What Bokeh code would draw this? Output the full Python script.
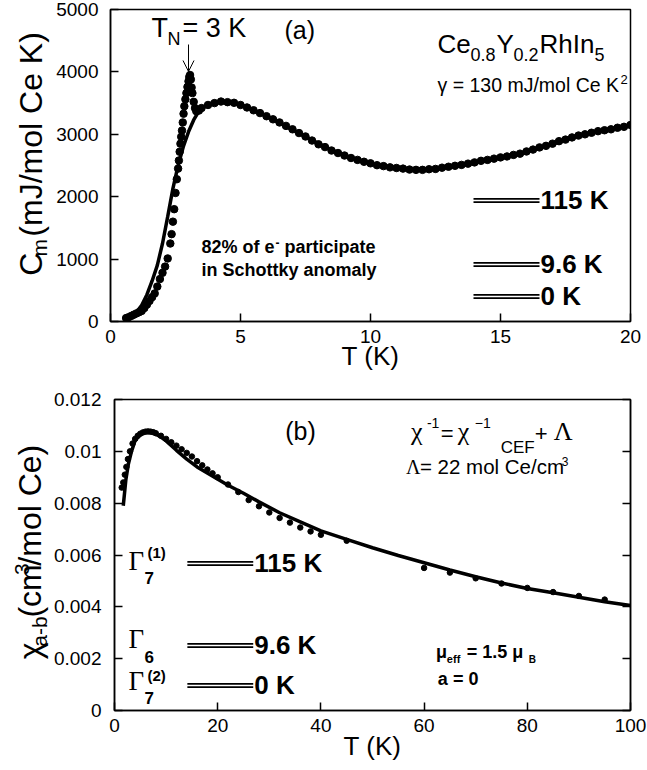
import math
from bokeh.plotting import figure
from bokeh.layouts import column, row
from bokeh.models import Label, Arrow, OpenHead, LinearAxis, FixedTicker, Range1d
from bokeh.embed import file_html
from bokeh.resources import INLINE

# ---------------- data: panel (a) specific heat ----------------
cm_T = [0.6, 0.7, 0.8, 0.9, 1.0, 1.1, 1.2, 1.3, 1.4, 1.5, 1.6, 1.7, 1.8, 1.9, 2.0,
        2.1, 2.2, 2.3, 2.35, 2.4, 2.45, 2.5, 2.55, 2.6, 2.63, 2.66, 2.69, 2.72, 2.75,
        2.78, 2.81, 2.84, 2.88, 2.92, 2.96, 3.0, 3.03, 3.06, 3.09, 3.12, 3.15, 3.2,
        3.25, 3.3, 3.4, 3.5, 3.75, 4.0, 4.25, 4.5, 4.75, 5.0, 5.25, 5.5, 5.75, 6.0,
        6.25, 6.5, 6.75, 7.0, 7.25, 7.5, 7.75, 8.0, 8.25, 8.5, 8.75, 9.0, 9.25, 9.5,
        9.75, 10.0, 10.25, 10.5, 10.75, 11.0, 11.25, 11.5, 11.75, 12.0, 12.25, 12.5,
        12.75, 13.0, 13.25, 13.5, 13.75, 14.0, 14.25, 14.5, 14.75, 15.0, 15.25, 15.5,
        15.75, 16.0, 16.25, 16.5, 16.75, 17.0, 17.25, 17.5, 17.75, 18.0, 18.25, 18.5,
        18.75, 19.0, 19.25, 19.5, 19.75, 20.0]
cm_C = [55, 70, 90, 110, 130, 150, 170, 215, 270, 330, 390, 450, 560, 680, 780,
        880, 1010, 1250, 1400, 1600, 1800, 2060, 2280, 2450, 2580, 2720, 2850, 2960, 3060,
        3190, 3330, 3450, 3560, 3660, 3760, 3850, 3920, 3950, 3880, 3750, 3660, 3520,
        3420, 3370, 3380, 3420, 3470, 3500, 3525, 3515, 3505, 3470, 3430, 3385, 3340, 3290,
        3240, 3190, 3135, 3080, 3020, 2965, 2900, 2840, 2795, 2740, 2700, 2660, 2620, 2590,
        2560, 2535, 2505, 2490, 2470, 2460, 2450, 2435, 2430, 2430, 2440, 2445,
        2465, 2480, 2495, 2510, 2530, 2550, 2575, 2590, 2610, 2630, 2645, 2670,
        2690, 2725, 2755, 2790, 2815, 2850, 2890, 2915, 2950, 2980, 3000, 3025,
        3050, 3065, 3080, 3105, 3120, 3150]
fitC_T = [0.6, 0.8, 1.0, 1.2, 1.4, 1.6, 1.8, 2.0, 2.2, 2.4, 2.6, 2.8, 3.0, 3.2, 3.4,
          3.7, 4.0, 4.3, 4.6, 5.0, 5.5, 6.0, 6.5, 7.0, 7.5, 8.0, 8.5, 9.0, 9.5, 10.0,
          10.5, 11.0, 11.5, 12.0, 12.5, 13.0, 13.5, 14.0, 14.5, 15.0, 15.5, 16.0, 16.5,
          17.0, 17.5, 18.0, 18.5, 19.0, 19.5, 20.0]
fitC_C = [55, 95, 150, 260, 430, 650, 900, 1250, 1680, 2130, 2500, 2800, 3040, 3230, 3370,
          3470, 3515, 3530, 3510, 3470, 3390, 3290, 3180, 3070, 2960, 2850, 2750, 2660, 2590, 2530,
          2490, 2460, 2440, 2430, 2440, 2470, 2500, 2540, 2580, 2630, 2670, 2720, 2780,
          2840, 2910, 2970, 3020, 3070, 3100, 3150]

# ---------------- data: panel (b) susceptibility ----------------
chi_T = [1.4, 1.7, 2.0, 2.3, 2.6, 3.0, 3.5, 4.0, 4.5, 5.0, 5.5, 6.0, 6.5, 7.0, 7.5, 8.0,
         9, 10, 11, 12, 13, 14, 15, 16, 17, 18, 19, 20, 22, 24, 26, 28, 30, 32, 34, 36,
         38, 40, 45, 60, 65, 70, 75, 80, 85, 90, 95]
chi_v = [0.0086, 0.0088, 0.0091, 0.0094, 0.0097, 0.0100, 0.0103, 0.01048, 0.0106, 0.01068,
         0.01073, 0.01076, 0.01077, 0.01076, 0.01074, 0.0107, 0.0106, 0.01048, 0.01035,
         0.01022, 0.01008, 0.00994, 0.0098, 0.00962, 0.00946, 0.0093, 0.00915, 0.009,
         0.00872, 0.00843, 0.00812, 0.00788, 0.00764, 0.00743, 0.00725, 0.00706, 0.00691,
         0.00678, 0.00655, 0.0055, 0.00532, 0.0051, 0.0049, 0.00473, 0.00457, 0.00442, 0.00428]
fitX_T = [1.7, 2.2, 2.7, 3.3, 4, 5, 6, 7, 8, 9, 10, 12, 14, 16, 18.8, 22, 25, 28, 32, 36,
          40, 45, 50, 55, 60, 65, 70, 75, 80, 85, 90, 95, 100]
fitX_v = [0.0079, 0.0089, 0.00952, 0.0100, 0.01042, 0.01065, 0.01073, 0.01074, 0.01066,
          0.01055, 0.0104, 0.01004, 0.0097, 0.0094, 0.00907, 0.00869, 0.00838, 0.00805,
          0.00763, 0.00728, 0.00693, 0.0066, 0.00628, 0.00598, 0.0057, 0.00542, 0.00516,
          0.00492, 0.00471, 0.00454, 0.00437, 0.0042, 0.00405]

# CEF levels
level_labels = ["115 K", "9.6 K", "0 K"]

a_xticks = [0, 5, 10, 15, 20]
a_yticks = [0, 1000, 2000, 3000, 4000, 5000]
b_xticks = [0, 20, 40, 60, 80, 100]
b_yticks = [0, 0.002, 0.004, 0.006, 0.008, 0.01, 0.012]
b_ylabels = ["0", "0.002", "0.004", "0.006", "0.008", "0.01", "0.012"]

SANS = "Liberation Sans"
SERIF = "Liberation Serif"
YLW = 50  # width of the strip that carries the rotated y titles
BASE = 0.37  # baseline correction (fraction of font size)


def style(p, xt, yt):
    p.grid.visible = False
    p.outline_line_color = "black"
    p.outline_line_width = 1.5
    p.background_fill_color = "white"
    p.border_fill_color = "white"
    for ax in p.axis:
        ax.axis_line_width = 1.5
        ax.axis_line_color = "black"
        ax.major_tick_in = 8
        ax.major_tick_out = 0
        ax.major_tick_line_width = 1.5
        ax.minor_tick_line_color = None
        ax.major_label_text_font = SANS
        ax.major_label_text_font_size = "19px"
        ax.major_label_text_color = "black"
        ax.major_label_text_font_style = "normal"
        ax.axis_label_text_font = SANS
        ax.axis_label_text_font_style = "normal"
        ax.axis_label_text_font_size = "26px"
        ax.axis_label_text_color = "black"
    p.xaxis.ticker = FixedTicker(ticks=xt)
    p.yaxis.ticker = FixedTicker(ticks=yt)
    p.xaxis.major_label_standoff = 8


def lab(p, conv, cx, cy, s, size, font=SANS, bold=False, angle=0.0, align="left"):
    # cx, cy give the wanted baseline position in page pixels
    if angle == 0.0:
        cy = cy - BASE * size
    else:
        cx = cx - BASE * size
    x, y = conv(cx, cy)
    p.add_layout(Label(x=x, y=y, text=s, text_font=font, text_font_size=f"{size}px",
                       text_font_style="bold" if bold else "normal", angle=angle,
                       text_align=align, text_baseline="alphabetic", text_color="black"))


def strip(h):
    s = figure(width=YLW, height=h, x_range=Range1d(0, YLW), y_range=Range1d(h, 0),
               output_backend="svg", toolbar_location=None, x_axis_type=None,
               y_axis_type=None, min_border=0)
    s.grid.visible = False
    s.outline_line_color = None
    s.background_fill_color = "white"
    s.border_fill_color = "white"
    return s


def ident(cx, cy):
    return (cx, cy)


R = math.pi / 2

# ================= panel (a) =================
H1 = 375
p1 = figure(width=647 - YLW, height=H1, x_range=Range1d(0, 20), y_range=Range1d(0, 5000),
            output_backend="svg", toolbar_location=None,
            min_border_left=110 - YLW, min_border_right=17, min_border_top=9,
            min_border_bottom=54)
style(p1, a_xticks, a_yticks)
p1.yaxis.major_label_standoff = 12
p1.xaxis.axis_label = "T (K)"
p1.xaxis.axis_label_standoff = -5


def ca(cx, cy):
    return ((cx - 110) / 26.0, (321 - cy) / 0.0624)


p1.line(fitC_T, fitC_C, line_color="black", line_width=3.5)
p1.scatter(cm_T, cm_C, size=7.5, fill_color="black", line_color="black")

a_lev_y = [200, 264, 296]
for yy, txt in zip(a_lev_y, level_labels):
    for d in (-1.7, 1.7):
        x0, y0 = ca(473, yy + d)
        x1, _ = ca(539, yy + d)
        p1.segment(x0=[x0], y0=[y0], x1=[x1], y1=[y0], line_color="black", line_width=1.8)
    lab(p1, ca, 540, yy + 9, txt, 26, bold=True)

lab(p1, ca, 151, 37, "T", 27)
lab(p1, ca, 167, 45, "N", 18)
lab(p1, ca, 182, 37, "= 3 K", 27)
ax0, ay0 = ca(188, 44)
ax1, ay1 = ca(188, 71)
p1.add_layout(Arrow(x_start=ax0, y_start=ay0, x_end=ax1, y_end=ay1, line_width=1,
                    end=OpenHead(size=11, line_width=1)))
lab(p1, ca, 284, 39, "(a)", 25)

lab(p1, ca, 437, 53, "Ce", 26)
lab(p1, ca, 470, 61, "0.8", 18)
lab(p1, ca, 496, 53, "Y", 26)
lab(p1, ca, 513, 61, "0.2", 18)
lab(p1, ca, 539, 53, "RhIn", 26)
lab(p1, ca, 594, 61, "5", 18)
lab(p1, ca, 437, 92, "\u03b3 = 130 mJ/mol Ce K", 19.5)
lab(p1, ca, 620, 84, "2", 13)

lab(p1, ca, 201, 253, "82% of e", 18, bold=True)
lab(p1, ca, 275, 246, "-", 12, bold=True)
lab(p1, ca, 284, 253, "participate", 18, bold=True)
lab(p1, ca, 201, 276, "in Schottky anomaly", 18, bold=True)

s1 = strip(H1)
lab(s1, ident, 42, 320, "C", 32, angle=R)
lab(s1, ident, 47, 297, "m", 21, angle=R)
lab(s1, ident, 42, 273, "(mJ/mol Ce K)", 32, angle=R)

# ================= panel (b) =================
H2 = 770 - H1
p2 = figure(width=647 - YLW, height=H2, x_range=Range1d(0, 100), y_range=Range1d(0, 0.012),
            output_backend="svg", toolbar_location=None,
            min_border_left=113 - YLW, min_border_right=17, min_border_top=24,
            min_border_bottom=60)
p2.add_layout(LinearAxis(), "right")
style(p2, b_xticks, b_yticks)
p2.yaxis[0].major_label_overrides = {v: s for v, s in zip(b_yticks, b_ylabels)}
p2.yaxis[0].major_label_standoff = 13
p2.yaxis[1].major_label_text_font_size = "1px"
p2.yaxis[1].major_label_text_color = None
p2.yaxis[1].major_label_standoff = 0
p2.xaxis.axis_label = "T (K)"
p2.xaxis.axis_label_standoff = -4


def cb(cx, cy):
    return ((cx - 113) / 5.17, (710 - cy) * 0.012 / 311.0)


p2.line(fitX_T, fitX_v, line_color="black", line_width=3.5)
p2.scatter(chi_T, chi_v, size=5.5, fill_color="black", line_color="black")

b_lev_y = [563, 645, 685]
for yy, txt in zip(b_lev_y, level_labels):
    for d in (-1.7, 1.7):
        x0, y0 = cb(186, yy + d)
        x1, _ = cb(252, yy + d)
        p2.segment(x0=[x0], y0=[y0], x1=[x1], y1=[y0], line_color="black", line_width=1.8)
    lab(p2, cb, 253, yy + 9, txt, 26, bold=True)

lab(p2, cb, 127, 570, "\u0393", 27, font=SERIF)
lab(p2, cb, 143, 584, "7", 17, bold=True)
lab(p2, cb, 146, 558, "(1)", 15, bold=True)
lab(p2, cb, 127, 648, "\u0393", 27, font=SERIF)
lab(p2, cb, 143, 663, "6", 17, bold=True)
lab(p2, cb, 127, 690, "\u0393", 27, font=SERIF)
lab(p2, cb, 143, 704, "7", 17, bold=True)
lab(p2, cb, 146, 681, "(2)", 15, bold=True)

lab(p2, cb, 284, 440, "(b)", 25)

lab(p2, cb, 410, 441, "\u03c7", 26, font=SERIF)
lab(p2, cb, 426, 428, "-1", 14)
lab(p2, cb, 440, 441, "=", 22)
lab(p2, cb, 457, 441, "\u03c7", 26, font=SERIF)
lab(p2, cb, 474, 428, "\u22121", 14)
lab(p2, cb, 500, 453, "CEF", 17)
lab(p2, cb, 534, 441, "+", 22)
lab(p2, cb, 553, 441, "\u039b", 26, font=SERIF)
lab(p2, cb, 405, 474, "\u039b", 20, font=SERIF)
lab(p2, cb, 419, 474, "= 22 mol Ce/cm", 20.5)
lab(p2, cb, 561, 465, "3", 12)

lab(p2, cb, 435, 658, "\u03bc", 18, bold=True)
lab(p2, cb, 446, 663, "eff", 11, bold=True)
lab(p2, cb, 466, 658, "= 1.5 \u03bc", 18, bold=True)
lab(p2, cb, 528, 663, "B", 10, bold=True)
lab(p2, cb, 437, 685, "a = 0", 18, bold=True)

s2 = strip(H2)


def cs2(cx, cy):
    return (cx, cy - H1)


lab(s2, cs2, 41, 705, "\u03c7", 32, angle=R)
lab(s2, cs2, 47, 689, "a-b", 21, angle=R)
lab(s2, cs2, 41, 652, "(cm", 32, angle=R)
lab(s2, cs2, 29, 598, "3", 21, angle=R)
lab(s2, cs2, 41, 586, "/mol Ce)", 32, angle=R)

layout = column(row(s1, p1, spacing=0), row(s2, p2, spacing=0), spacing=0)
open("out.html", "w").write(file_html(layout, INLINE))
